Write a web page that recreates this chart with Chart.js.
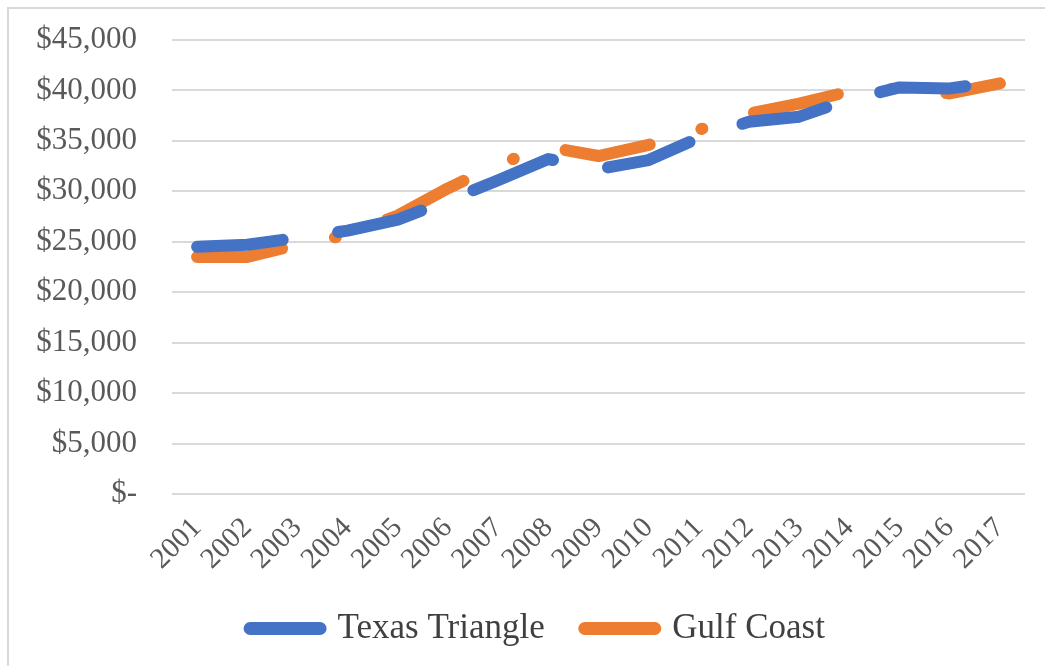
<!DOCTYPE html>
<html>
<head>
<meta charset="utf-8">
<script src="https://cdn.jsdelivr.net/npm/chart.js@4/dist/chart.umd.min.js"></script>
<style>
    html, body { margin: 0; padding: 0; background: #fff; }
    #wrap { position: relative; width: 1045px; height: 666px; overflow: hidden; }
    #frame { position: absolute; left: 7px; top: 7px; width: 1200px; height: 800px;
             border-top: 2px solid #d9d9d9; border-left: 2px solid #d9d9d9; pointer-events: none; }
</style>
</head>
<body>
<div id="wrap">
    <canvas id="chart" width="1045" height="666"></canvas>
    <div id="frame"></div>
</div>
<script>
// Median income by region, 2001-2017
const years = ['2001', '2002', '2003', '2004', '2005', '2006', '2007', '2008', '2009',
               '2010', '2011', '2012', '2013', '2014', '2015', '2016', '2017'];
const texasTriangle = [24500, 24700, 25400, 26100, 27200, 29100, 31100, 33200, 32200,
                       33100, 35300, 36900, 37400, 39100, 40300, 40200, 40900];
const gulfCoast = [23500, 23500, 24700, 25700, 27600, 30300, 32700, 34400, 33500,
                   34600, 36100, 37700, 38700, 39900, 40200, 39700, 40700];
const yTicks = [0, 5000, 10000, 15000, 20000, 25000, 30000, 35000, 40000, 45000];

const BLUE = '#4472C4';
const ORANGE = '#ED7D31';
const serif = '"Liberation Serif", "Times New Roman", serif';

function money(v) {
    if (v === 0) return '$-';
    return '$' + v.toLocaleString('en-US');
}

// nudge the legend a bit right, like the original sits
const legendShift = {
    id: 'legendShift',
    afterLayout(chart) {
        if (chart.legend) {
            chart.legend.left += 25;
            chart.legend.right += 25;
        }
    }
};

const ctx = document.getElementById('chart');
new Chart(ctx, {
    type: 'line',
    data: {
        labels: years,
        datasets: [{
            label: 'Texas Triangle',
            data: texasTriangle,
            borderColor: BLUE,
            backgroundColor: BLUE,
            borderWidth: 12,
            borderDash: [86, 56],
            borderCapStyle: 'round',
            borderJoinStyle: 'round',
            pointRadius: 0,
            tension: 0
        }, {
            label: 'Gulf Coast',
            data: gulfCoast,
            borderColor: ORANGE,
            backgroundColor: ORANGE,
            borderWidth: 12,
            borderDash: [86, 54, 1, 54],
            borderCapStyle: 'round',
            borderJoinStyle: 'round',
            pointRadius: 0,
            tension: 0
        }]
    },
    plugins: [legendShift],
    options: {
        responsive: false,
        animation: false,
        layout: {
            padding: { top: 40, right: 20, left: 0, bottom: 10 }
        },
        plugins: {
            tooltip: { enabled: false },
            legend: {
                position: 'bottom',
                labels: {
                    color: '#404040',
                    font: { family: serif, size: 35 },
                    usePointStyle: true,
                    pointStyle: 'line',
                    pointStyleWidth: 70,
                    boxHeight: 13,
                    padding: 40,
                    generateLabels: function(chart) {
                        return chart.data.datasets.map((ds, i) => ({
                            text: ds.label,
                            fillStyle: ds.borderColor,
                            strokeStyle: ds.borderColor,
                            lineWidth: 13,
                            lineCap: 'round',
                            lineDash: [],
                            pointStyle: 'line',
                            fontColor: '#404040',
                            hidden: false,
                            datasetIndex: i
                        }));
                    }
                }
            }
        },
        scales: {
            x: {
                offset: true,
                grid: { display: false, drawTicks: false },
                border: { display: false },
                ticks: {
                    color: '#595959',
                    font: { family: serif, size: 29 },
                    minRotation: 45,
                    maxRotation: 45,
                    padding: 17,
                    autoSkip: false
                },
                afterFit: function(scale) {
                    scale.height = 77;
                    scale.paddingLeft = 0;
                    scale.paddingRight = 0;
                }
            },
            y: {
                min: 0,
                max: 45000,
                afterBuildTicks: function(scale) {
                    scale.ticks = yTicks.map(v => ({ value: v }));
                },
                grid: { color: '#d9d9d9', lineWidth: 2, drawTicks: false },
                border: { display: false },
                ticks: {
                    color: '#595959',
                    font: { family: serif, size: 31 },
                    padding: 35,
                    callback: function(value) { return money(value); }
                },
                afterFit: function(scale) {
                    scale.width = 172;
                    scale.paddingTop = 0;
                    scale.paddingBottom = 0;
                }
            }
        }
    }
});
</script>
</body>
</html>
